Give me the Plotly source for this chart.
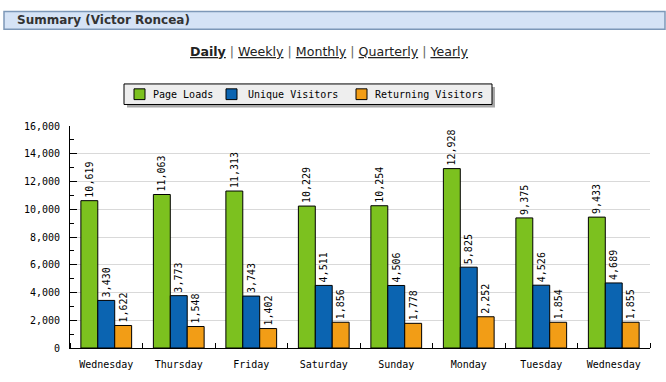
import plotly.graph_objects as go

days = ["Wednesday", "Thursday", "Friday", "Saturday", "Sunday", "Monday", "Tuesday", "Wednesday"]
page_loads = [10619, 11063, 11313, 10229, 10254, 12928, 9375, 9433]
unique_visitors = [3430, 3773, 3743, 4511, 4506, 5825, 4526, 4689]
returning_visitors = [1622, 1548, 1402, 1856, 1778, 2252, 1854, 1855]
series_names = ["Page Loads", "Unique Visitors", "Returning Visitors"]
series_colors = ["#7cc11f", "#0b64b1", "#f29d16"]
y_ticks = [0, 2000, 4000, 6000, 8000, 10000, 12000, 14000, 16000]
nav_labels = ["Daily", "Weekly", "Monthly", "Quarterly", "Yearly"]
title_text = "Summary (Victor Roncea)"

W, H = 666, 382
L, R, T, B = 70, 16, 126, 29
PW, PH = W - L - R, H - T - B

def px(x):
    return (x - L) / PW

def py(y):
    return (H - B - y) / PH

mono = "DejaVu Sans Mono"
xs = list(range(len(days)))

fig = go.Figure()
for name, vals, col in zip(series_names, [page_loads, unique_visitors, returning_visitors], series_colors):
    fig.add_trace(go.Bar(
        x=xs, y=vals, name=name,
        marker=dict(color=col, line=dict(color="#000000", width=1)),
        texttemplate="%{y:,}", textposition="outside", textangle=-90,
        textfont=dict(family=mono, size=10, color="#000000"),
        constraintext="none", cliponaxis=False, showlegend=False,
    ))

shapes = []
annotations = []

# header bar
shapes.append(dict(type="rect", xref="paper", yref="paper",
                   x0=px(4), x1=px(665), y0=py(27), y1=py(9),
                   fillcolor="#d5e3f6", line=dict(color="#7d98b8", width=1.5), layer="below"))
annotations.append(dict(xref="paper", yref="paper", x=px(15), y=py(18), xanchor="left", yanchor="middle",
                        text="<b>" + title_text + "</b>", showarrow=False,
                        font=dict(family="DejaVu Sans", size=12, color="#333333")))

# nav
parts = []
for i, lab in enumerate(nav_labels):
    if i == 0:
        parts.append("<b><u>" + lab + "</u></b>")
    else:
        parts.append("<u>" + lab + "</u>")
nav = " <span style='color:#666666'>|</span> ".join(parts)
annotations.append(dict(xref="paper", yref="paper", x=px(329), y=py(50), xanchor="center", yanchor="middle",
                        text=nav, showarrow=False,
                        font=dict(family="DejaVu Sans", size=12.6, color="#222222")))

# legend box with shadow
shapes.append(dict(type="rect", xref="paper", yref="paper",
                   x0=px(127), x1=px(495), y0=py(107), y1=py(86),
                   fillcolor="#a8a8a8", line=dict(width=0), layer="below"))
shapes.append(dict(type="rect", xref="paper", yref="paper",
                   x0=px(124), x1=px(492), y0=py(104), y1=py(83),
                   fillcolor="#eeeeee", line=dict(color="#000000", width=1), layer="below"))
sq_x = [134, 226, 356]
tx_x = [151, 246, 373]
for sx, tx, name, col in zip(sq_x, tx_x, series_names, series_colors):
    shapes.append(dict(type="rect", xref="paper", yref="paper",
                       x0=px(sx), x1=px(sx + 11), y0=py(99), y1=py(88),
                       fillcolor=col, line=dict(color="#000000", width=1)))
    annotations.append(dict(xref="paper", yref="paper", x=px(tx), y=py(94), xanchor="left", yanchor="middle",
                            text=name, showarrow=False,
                            font=dict(family=mono, size=10, color="#000000")))

fig.update_layout(
    width=W, height=H,
    margin=dict(l=L, r=R, t=T, b=B, pad=0),
    paper_bgcolor="#ffffff", plot_bgcolor="#ffffff",
    barmode="group", bargap=0.3, bargroupgap=0,
    shapes=shapes, annotations=annotations,
    xaxis=dict(
        range=[-0.5, len(days) - 0.5],
        tickmode="array", tickvals=xs, ticktext=days,
        ticks="", showgrid=False, zeroline=False,
        showline=True, linecolor="#000000", linewidth=1,
        tickfont=dict(family=mono, size=10, color="#000000"),
        ticklabelstandoff=7,
        minor=dict(tickmode="array", tickvals=[i - 0.5 for i in range(len(days) + 1)],
                   ticks="inside", ticklen=5, tickcolor="#000000", tickwidth=1, showgrid=False),
        fixedrange=True,
    ),
    yaxis=dict(
        range=[0, 16000],
        tickmode="array", tickvals=y_ticks, ticktext=[f"{v:,}" for v in y_ticks],
        ticks="inside", ticklen=7, tickcolor="#000000", tickwidth=1,
        showgrid=True, gridcolor="#d9d9d9", gridwidth=1, zeroline=False,
        showline=True, linecolor="#000000", linewidth=1,
        tickfont=dict(family=mono, size=10, color="#000000"),
        minor=dict(dtick=1000, tick0=0, ticks="inside", ticklen=4, tickcolor="#000000", showgrid=False),
        ticklabelstandoff=7,
        fixedrange=True,
    ),
)

fig.write_html("out.html", config={"displayModeBar": False},
               post_script="document.body.style.margin='0';document.body.style.padding='0';")
